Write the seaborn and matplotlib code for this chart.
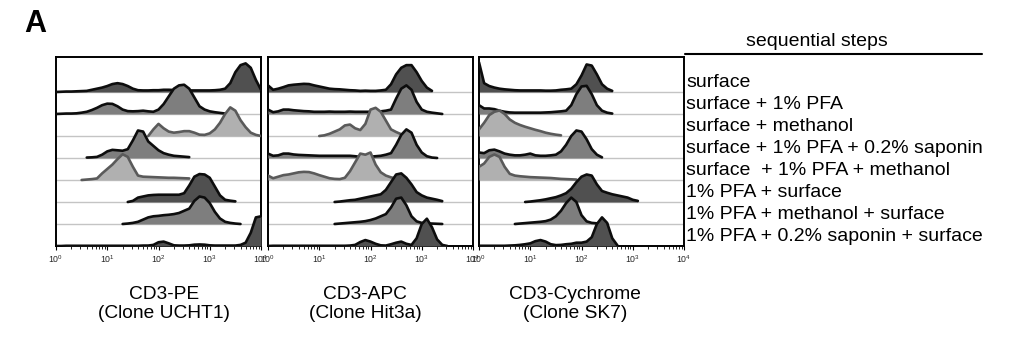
import numpy as np
import pandas as pd
import matplotlib
matplotlib.use("Agg")
import matplotlib.pyplot as plt
import seaborn as sns
from matplotlib import ticker, transforms

# ---------------- data ----------------
steps = [
    "surface",
    "surface + 1% PFA",
    "surface + methanol",
    "surface + 1% PFA + 0.2% saponin",
    "surface  + 1% PFA + methanol",
    "1% PFA + surface",
    "1% PFA + methanol + surface",
    "1% PFA + 0.2% saponin + surface",
]
panel_titles = ["CD3-PE\n(Clone UCHT1)", "CD3-APC\n(Clone Hit3a)", "CD3-Cychrome\n(Clone SK7)"]
row_shade = ["dark", "medium", "light", "medium", "light", "dark", "medium", "dark"]
bin_step = 0.1  # log10 bin width of the histogram samples

# start (log10 intensity) of each histogram, and heights (in row spacings)
pe_start = [0.0, 0.0, 1.8, 0.6, 0.5, 1.4, 1.3, 0.0]
pe_heights = [
    [0, 0.01, 0.02, 0.02, 0.03, 0.04, 0.05, 0.1, 0.15, 0.2, 0.27, 0.36, 0.4, 0.36, 0.27, 0.15, 0.08,
     0.07, 0.07, 0.08, 0.08, 0.1, 0.1, 0.09, 0.08, 0.07, 0.07, 0.07, 0.07, 0.07, 0.07, 0.08, 0.1,
     0.15, 0.4, 0.9, 1.22, 1.3, 1.1, 0.55, 0.1],
    [0, 0.01, 0.02, 0.02, 0.03, 0.06, 0.1, 0.18, 0.28, 0.4, 0.47, 0.46, 0.35, 0.2, 0.13, 0.12, 0.13,
     0.15, 0.12, 0.1, 0.2, 0.45, 0.8, 1.15, 1.3, 1.33, 1.15, 0.75, 0.35, 0.2, 0.12, 0.08, 0.05, 0.02],
    [0.0, 0.3, 0.55, 0.35, 0.2, 0.15, 0.18, 0.22, 0.22, 0.15, 0.06, 0.05, 0.12, 0.3, 0.6, 1.0, 1.3,
     1.15, 0.72, 0.4, 0.15, 0.05, 0.0],
    [0.02, 0.03, 0.05, 0.15, 0.3, 0.37, 0.35, 0.33, 0.4, 0.8, 1.25, 1.2, 0.75, 0.55, 0.35, 0.22, 0.15,
     0.1, 0.08, 0.06, 0.04],
    [0.0, 0.02, 0.04, 0.07, 0.3, 0.5, 0.7, 0.95, 1.17, 1.05, 0.6, 0.2, 0.15, 0.14, 0.13, 0.12, 0.11,
     0.1, 0.1, 0.09, 0.08, 0.07],
    [0.0, 0.05, 0.2, 0.25, 0.3, 0.32, 0.33, 0.33, 0.33, 0.33, 0.33, 0.4, 0.75, 1.15, 1.27, 1.25, 1.1,
     0.7, 0.3, 0.1, 0.06, 0.03],
    [0.0, 0.02, 0.05, 0.1, 0.2, 0.3, 0.35, 0.37, 0.4, 0.42, 0.45, 0.5, 0.6, 0.7, 1.05, 1.25, 1.2, 0.95,
     0.55, 0.25, 0.1, 0.05, 0.02, 0.0],
    [0.0, 0.0, 0.01, 0.01, 0.01, 0.01, 0.01, 0.01, 0.01, 0.01, 0.01, 0.01, 0.01, 0.01, 0.01, 0.01,
     0.01, 0.02, 0.02, 0.05, 0.17, 0.2, 0.12, 0.03, 0.02, 0.02, 0.03, 0.06, 0.07, 0.06, 0.03, 0.02,
     0.02, 0.02, 0.02, 0.02, 0.05, 0.15, 0.6, 1.3, 1.35],
]

apc_start = [0.0, 0.0, 1.0, 0.0, 0.0, 1.3, 1.3, 0.0]
apc_heights = [
    [0.3, 0.1, 0.15, 0.22, 0.3, 0.33, 0.35, 0.37, 0.36, 0.3, 0.25, 0.2, 0.15, 0.13, 0.12, 0.1, 0.08,
     0.07, 0.05, 0.06, 0.05, 0.05, 0.07, 0.1, 0.35, 0.8, 1.1, 1.22, 1.22, 0.9, 0.5, 0.2, 0.05],
    [0.2, 0.08, 0.12, 0.2, 0.2, 0.17, 0.15, 0.13, 0.12, 0.1, 0.1, 0.1, 0.11, 0.1, 0.1, 0.1, 0.11, 0.1,
     0.1, 0.1, 0.1, 0.1, 0.12, 0.15, 0.2, 0.7, 1.15, 1.3, 1.1, 0.55, 0.2, 0.1, 0.06, 0.03, 0.0],
    [0.0, 0.03, 0.1, 0.2, 0.3, 0.48, 0.52, 0.35, 0.27, 0.55, 1.2, 1.28, 1.1, 0.7, 0.3, 0.18, 0.08, 0.02],
    [0.2, 0.1, 0.12, 0.2, 0.2, 0.16, 0.14, 0.13, 0.12, 0.11, 0.1, 0.1, 0.1, 0.1, 0.1, 0.1, 0.1, 0.08,
     0.05, 0.05, 0.06, 0.08, 0.1, 0.15, 0.22, 0.6, 1.05, 1.3, 1.15, 0.6, 0.25, 0.08, 0.02, 0.0],
    [0.2, 0.08, 0.15, 0.22, 0.25, 0.3, 0.35, 0.37, 0.36, 0.3, 0.22, 0.15, 0.08, 0.05, 0.04, 0.1, 0.4,
     0.8, 1.2, 1.15, 1.25, 0.7, 0.35, 0.2, 0.12, 0.06, 0.02],
    [0.0, 0.02, 0.05, 0.08, 0.1, 0.15, 0.2, 0.25, 0.3, 0.35, 0.55, 0.9, 1.25, 1.3, 1.1, 0.8, 0.45, 0.3,
     0.2, 0.15, 0.1, 0.04],
    [0.0, 0.02, 0.04, 0.06, 0.08, 0.1, 0.13, 0.18, 0.25, 0.35, 0.45, 0.75, 1.15, 1.2, 0.85, 0.35, 0.12,
     0.05, 0.03, 0.02, 0.01, 0.0],
    [0.0, 0.01, 0.01, 0.01, 0.01, 0.01, 0.01, 0.01, 0.01, 0.01, 0.01, 0.01, 0.01, 0.01, 0.01, 0.01,
     0.02, 0.05, 0.18, 0.27, 0.2, 0.1, 0.03, 0.02, 0.08, 0.15, 0.2, 0.1, 0.05, 0.35, 1.0, 1.24, 0.85,
     0.3, 0.05, 0.0],
]

cy_start = [0.0, 0.0, 0.0, 0.0, 0.0, 0.9, 0.7, 0.0]
cy_heights = [
    [1.35, 0.4, 0.27, 0.2, 0.15, 0.12, 0.1, 0.08, 0.07, 0.07, 0.07, 0.07, 0.07, 0.06, 0.06, 0.07, 0.1,
     0.12, 0.15, 0.35, 0.75, 1.25, 1.2, 0.8, 0.35, 0.15, 0.05],
    [0.4, 0.25, 0.25, 0.22, 0.15, 0.1, 0.07, 0.06, 0.06, 0.06, 0.06, 0.06, 0.06, 0.07, 0.08, 0.1, 0.12,
     0.15, 0.4, 0.9, 1.25, 1.28, 0.9, 0.4, 0.15, 0.06, 0.02],
    [0.3, 0.6, 0.95, 1.1, 1.16, 1.0, 0.75, 0.6, 0.5, 0.42, 0.35, 0.28, 0.22, 0.15, 0.1, 0.06, 0.03],
    [0.25, 0.22, 0.35, 0.38, 0.3, 0.2, 0.15, 0.12, 0.12, 0.15, 0.2, 0.12, 0.1, 0.1, 0.12, 0.15, 0.3,
     0.6, 1.0, 1.25, 1.2, 0.85, 0.4, 0.15, 0.03],
    [0.6, 0.75, 1.05, 1.16, 1.05, 0.6, 0.28, 0.2, 0.17, 0.15, 0.13, 0.12, 0.11, 0.1, 0.09, 0.07, 0.05,
     0.04, 0.03, 0.02],
    [0.0, 0.02, 0.05, 0.08, 0.12, 0.17, 0.22, 0.3, 0.4, 0.6, 0.9, 1.15, 1.25, 1.2, 0.8, 0.5, 0.42, 0.35,
     0.3, 0.25, 0.2, 0.1, 0.05],
    [0.0, 0.02, 0.04, 0.06, 0.08, 0.1, 0.13, 0.2, 0.35, 0.6, 0.95, 1.2, 1.0, 0.4, 0.12, 0.05, 0.03,
     0.02, 0.01],
    [0.01, 0.01, 0.01, 0.01, 0.01, 0.01, 0.02, 0.03, 0.05, 0.08, 0.12, 0.22, 0.27, 0.2, 0.08, 0.04,
     0.05, 0.08, 0.1, 0.15, 0.15, 0.2, 0.4, 1.0, 1.3, 1.05, 0.35, 0.03],
]

panels = [(pe_start, pe_heights), (apc_start, apc_heights), (cy_start, cy_heights)]

# long table
records = []
for p, (starts, heights) in enumerate(panels):
    for r, (s, hs) in enumerate(zip(starts, heights)):
        for k, h in enumerate(hs):
            lx = s + bin_step * k
            records.append(dict(panel=p, row=r, intensity=10 ** lx, height=h))
df = pd.DataFrame(records)

# ---------------- style ----------------
sns.set_theme(style="white")
plt.rcParams["font.family"] = ["Liberation Sans", "DejaVu Sans"]
plt.rcParams["mathtext.fontset"] = "custom"
plt.rcParams["mathtext.rm"] = "Liberation Sans"

fill_col = {"dark": "#505050", "medium": "#7e7e7e", "light": "#b0b0b0"}
edge_col = {"dark": "#0d0d0d", "medium": "#0d0d0d", "light": "#5a5a5a"}

W, H = 1024, 337
fig = plt.figure(figsize=(W / 100, H / 100), dpi=100)

lefts = [56, 268, 479]
pw, ph, pbottom = 205, 189, 91
n_rows = len(steps)
top_lim = 8.59

axes = []
for p in range(3):
    ax = fig.add_axes([lefts[p] / W, pbottom / H, pw / W, ph / H])
    axes.append(ax)
    ax.set_xscale("log")
    # baselines
    for r in range(n_rows - 1):
        ax.axhline(n_rows - 1 - r, color="#c4c4c4", lw=1.0, zorder=1)
    for r in range(n_rows):
        sub = df[(df.panel == p) & (df.row == r)]
        base = n_rows - 1 - r
        shade = row_shade[r]
        ax.fill_between(sub.intensity, base, base + sub.height, color=fill_col[shade],
                        lw=0, zorder=2 + 2 * r)
        sns.lineplot(x=sub.intensity.values, y=(base + sub.height).values, ax=ax,
                     color=edge_col[shade], lw=1.9, estimator=None, sort=False,
                     zorder=3 + 2 * r)
    ax.set_xlim(1, 1e4)
    ax.set_ylim(0, top_lim)
    ax.set_yticks([])
    ax.set_xlabel("")
    ax.set_ylabel("")
    for sp in ax.spines.values():
        sp.set_color("black")
        sp.set_linewidth(1.4)
    ax.xaxis.set_major_locator(ticker.LogLocator(base=10, numticks=10))
    ax.xaxis.set_minor_locator(ticker.LogLocator(base=10, subs=np.arange(2, 10), numticks=10))
    ax.xaxis.set_major_formatter(ticker.LogFormatterMathtext())
    ax.xaxis.set_minor_formatter(ticker.NullFormatter())
    ax.tick_params(axis="x", which="major", direction="out", length=3, width=0.8,
                   labelsize=6.3, pad=2, color="black", bottom=True)
    ax.tick_params(axis="x", which="minor", direction="out", length=2, width=0.6,
                   color="black", bottom=True)
    ax.set_facecolor("white")

# bottom titles
title_x = [164, 365, 575]
for p in range(3):
    fig.text(title_x[p] / W, 1 - 304 / H, panel_titles[p], ha="center", va="center",
             fontsize=13.8, linespacing=1.12, color="black")

# legend of steps
tr = transforms.blended_transform_factory(fig.transFigure, axes[2].transData)
for r, s in enumerate(steps):
    fig.text(686 / W, n_rows - 1 - r + 0.42, s, transform=tr, ha="left", va="center",
             fontsize=14, color="black")

fig.text(817 / W, 1 - 41 / H, "sequential steps", ha="center", va="center",
         fontsize=14, color="black")
fig.add_artist(plt.Line2D([685 / W, 982 / W], [1 - 54 / H, 1 - 54 / H],
                          color="black", lw=1.5, transform=fig.transFigure))

fig.text(24 / W, 1 - 32 / H, "A", ha="left", va="baseline", fontsize=22,
         fontweight="bold", color="black")

fig.savefig("out.png", dpi=100, facecolor="white")
